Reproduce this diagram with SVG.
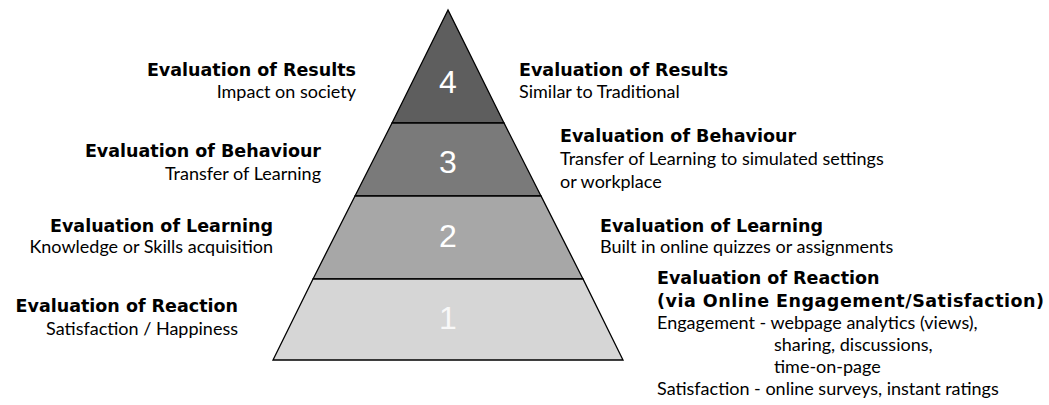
<svg xmlns="http://www.w3.org/2000/svg" width="1049" height="405" viewBox="0 0 1049 405">
<style>
.b{font-family:"DejaVu Sans","Liberation Sans",sans-serif;font-weight:bold;font-size:17.5px;fill:#000}
.r{font-family:"Lato","Liberation Sans",sans-serif;font-size:18px;fill:#000}
.n{font-family:"Liberation Sans",Arial,sans-serif;font-size:32px;fill:#fff;text-anchor:middle}
.t{stroke:#000;stroke-width:1.3}
.L{text-anchor:end}
</style>
<rect width="1049" height="405" fill="#fff"/>
<g id="tier4"><polygon class="t" points="448,10 392,123 504,123" fill="#5e5e5e"/><text class="n" x="448" y="93">4</text></g>
<g id="tier3"><polygon class="t" points="392,123 355,196 541,196 504,123" fill="#7a7a7a"/><text class="n" x="448" y="173">3</text></g>
<g id="tier2"><polygon class="t" points="355,196 313,279 583,279 541,196" fill="#a7a7a7"/><text class="n" x="448" y="247">2</text></g>
<g id="tier1"><polygon class="t" points="313,279 273,360 623,360 583,279" fill="#d6d6d6"/><text class="n" x="448" y="329" fill-opacity="0.85">1</text></g>
<g id="left-results"><text class="b L" x="356" y="76">Evaluation of Results</text><text class="r L" x="356" y="98">Impact on society</text></g>
<g id="left-behaviour"><text class="b L" x="321" y="157">Evaluation of Behaviour</text><text class="r L" x="321" y="180">Transfer of Learning</text></g>
<g id="left-learning"><text class="b L" x="273" y="232">Evaluation of Learning</text><text class="r L" x="273" y="253">Knowledge or Skills acquisition</text></g>
<g id="left-reaction"><text class="b L" x="238" y="312">Evaluation of Reaction</text><text class="r L" x="238" y="335">Satisfaction / Happiness</text></g>
<g id="right-results"><text class="b" x="519" y="76">Evaluation of Results</text><text class="r" x="519" y="98">Similar to Traditional</text></g>
<g id="right-behaviour"><text class="b" x="560" y="142">Evaluation of Behaviour</text><text class="r" x="560" y="165">Transfer of Learning to simulated settings</text><text class="r" x="560" y="188">or workplace</text></g>
<g id="right-learning"><text class="b" x="600" y="232">Evaluation of Learning</text><text class="r" x="600" y="253">Built in online quizzes or assignments</text></g>
<g id="right-reaction"><text class="b" x="657" y="284">Evaluation of Reaction</text><text class="b" x="657" y="307" textLength="387" lengthAdjust="spacing">(via Online Engagement/Satisfaction)</text><text class="r" x="657" y="329">Engagement - webpage analytics (views),</text><text class="r" x="774" y="351">sharing, discussions,</text><text class="r" x="774" y="373">time-on-page</text><text class="r" x="657" y="395">Satisfaction - online surveys, instant ratings</text></g>
</svg>
